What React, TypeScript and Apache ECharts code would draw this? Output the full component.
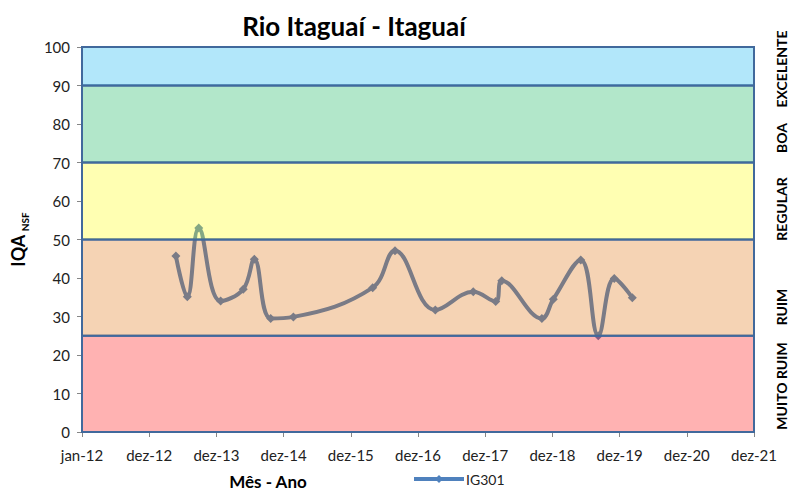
import React, { useEffect, useRef } from "react";
import * as echarts from "echarts";

// ---- data ----
const sampleDates = [
  "2013-05-25", "2013-07-26", "2013-09-26", "2014-01-23", "2014-05-26",
  "2014-07-25", "2014-10-22", "2015-02-22", "2016-04-28", "2016-08-27",
  "2017-04-03", "2017-10-26", "2018-02-25", "2018-03-30", "2018-11-03",
  "2019-01-04", "2019-06-02", "2019-09-05", "2019-12-01", "2020-03-08",
];
const iqaValues = [
  45.7, 35.1, 53.0, 34.0, 37.1,
  44.9, 29.5, 29.9, 37.5, 47.1,
  31.7, 36.4, 33.9, 39.3, 29.5,
  34.5, 44.7, 25.0, 39.9, 34.9,
];
const seriesName = "IG301";
const bandLow = [0, 25, 50, 70, 90];
const bandHigh = [25, 50, 70, 90, 100];
const bandBaseColors = ["#ff0000", "#de6c05", "#ffff00", "#00b050", "#00b0f0"];
const bandNames = ["MUITO RUIM", "RUIM", "REGULAR", "BOA", "EXCELENTE"];
const bandLabelY = [386, 307, 209, 138, 69];
const monthNames = ["jan", "fev", "mar", "abr", "mai", "jun", "jul", "ago", "set", "out", "nov", "dez"];

const DAY = 86400000;
const ORIGIN = Date.UTC(2012, 0, 1);
const X_MAX_DAYS = 3650;
const X_STEP_DAYS = 365;

function dayOffset(s: string): number {
  const [y, m, d] = s.split("-").map(Number);
  return (Date.UTC(y, m - 1, d) - ORIGIN) / DAY;
}
function fmtDay(v: number): string {
  const dt = new Date(ORIGIN + v * DAY);
  return `${monthNames[dt.getUTCMonth()]}-${String(dt.getUTCFullYear()).slice(2)}`;
}
function rgba(hex: string, a: number): string {
  const n = parseInt(hex.slice(1), 16);
  return `rgba(${(n >> 16) & 255},${(n >> 8) & 255},${n & 255},${a})`;
}

const FONT = "Lato, 'Liberation Sans', sans-serif";

export default function App() {
  const ref = useRef<HTMLDivElement>(null);
  useEffect(() => {
    if (!ref.current) return;
    const chart = echarts.init(ref.current, undefined, { renderer: "svg" });
    const lineData = sampleDates.map((d, i) => [dayOffset(d), iqaValues[i]]);
    const bandData = bandLow.map((lo, i) => [0, lo, bandHigh[i], i]);

    chart.setOption({
      animation: false,
      textStyle: { fontFamily: FONT },
      grid: { left: 82, right: 36, top: 47, bottom: 59, outerBoundsMode: "none", containLabel: false },
      xAxis: {
        type: "value",
        min: 0,
        max: X_MAX_DAYS,
        interval: X_STEP_DAYS,
        name: "Mês - Ano",
        nameLocation: "middle",
        nameGap: 41,
        nameTextStyle: { fontSize: 17, fontWeight: "bold", color: "#000", fontFamily: FONT, padding: [0, 300, 0, 0] },
        axisLine: { show: true, lineStyle: { color: "#868686", width: 1 } },
        axisTick: { show: true, length: 5, lineStyle: { color: "#868686" } },
        axisLabel: { formatter: (v: number) => fmtDay(v), fontSize: 15, color: "#222", margin: 15, fontFamily: FONT },
        splitLine: { show: false },
      },
      yAxis: {
        type: "value",
        min: 0,
        max: 100,
        interval: 10,
        name: "{a|IQA}{s| }{b|NSF}",
        nameLocation: "middle",
        nameRotate: 90,
        nameGap: 52,
        nameTextStyle: {
          rich: {
            a: { fontSize: 18, fontWeight: "bold", color: "#000", fontFamily: FONT },
            s: { fontSize: 14, fontFamily: FONT },
            b: { fontSize: 10, fontWeight: "bold", color: "#000", fontFamily: FONT, verticalAlign: "bottom", padding: [14, 0, 0, 0] },
          },
        },
        axisLine: { show: true, lineStyle: { color: "#868686", width: 1 } },
        axisTick: { show: true, length: 5, lineStyle: { color: "#868686" } },
        axisLabel: { fontSize: 15, color: "#222", margin: 12, fontFamily: FONT },
        splitLine: { show: false },
      },
      legend: {
        left: 407,
        top: 467,
        itemWidth: 50,
        itemHeight: 10,
        itemGap: 4,
        lineStyle: { width: 4 },
        textStyle: { fontSize: 14, color: "#222", fontFamily: FONT, padding: [0, 0, 0, -3] },
        data: [seriesName],
      },
      series: [
        {
          name: seriesName,
          type: "line",
          data: lineData,
          smooth: 0.4,
          symbol: "diamond",
          symbolSize: 9,
          z: 2,
          itemStyle: { color: "#4f81bd" },
          lineStyle: { color: "#4f81bd", width: 4 },
        },
        {
          name: "faixas",
          type: "custom",
          z: 3,
          silent: true,
          clip: false,
          encode: { x: 0, y: [1, 2] },
          data: bandData,
          renderItem: (params: any, api: any) => {
            const lo = api.value(1);
            const hi = api.value(2);
            const idx = api.value(3);
            const p0 = api.coord([0, hi]);
            const p1 = api.coord([X_MAX_DAYS, lo]);
            return {
              type: "rect",
              shape: { x: p0[0], y: p0[1], width: p1[0] - p0[0], height: p1[1] - p0[1] },
              style: { fill: rgba(bandBaseColors[idx], 0.3), stroke: "#41699c", lineWidth: 2 },
            };
          },
        },
      ],
      graphic: [
        {
          type: "text",
          x: 354,
          y: 26,
          style: {
            text: "Rio Itaguaí - Itaguaí",
            font: `bold 26px ${FONT}`,
            fill: "#000",
            align: "center",
            verticalAlign: "middle",
          },
        },
        ...bandNames.map((n, i) => ({
          type: "text",
          x: 774,
          y: bandLabelY[i],
          rotation: Math.PI / 2,
          style: {
            text: n,
            font: `bold 14px ${FONT}`,
            fill: "#000",
            align: "center",
            verticalAlign: "top",
          },
        })),
      ],
    });
    return () => chart.dispose();
  }, []);
  return (
    <div
      ref={ref}
      style={{ position: "absolute", left: 0, top: 0, width: 790, height: 491 }}
    />
  );
}
